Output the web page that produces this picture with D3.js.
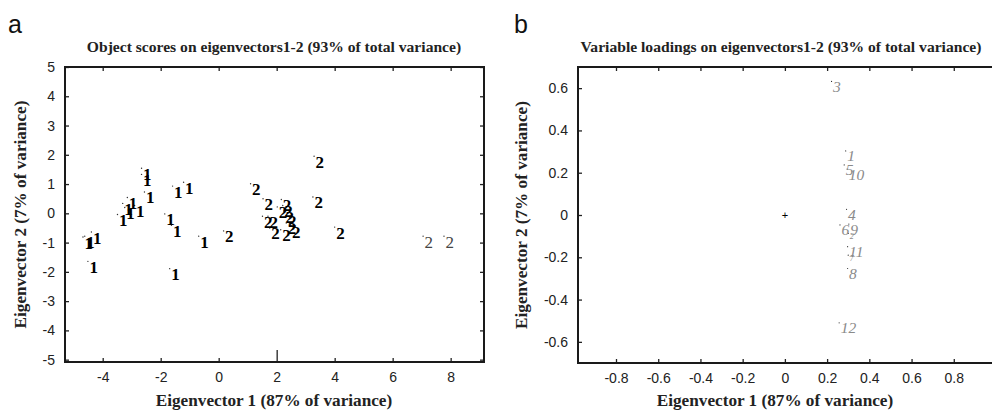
<!DOCTYPE html>
<html>
<head>
<meta charset="utf-8">
<script src="https://cdn.jsdelivr.net/npm/d3@7"></script>
<style>
  body { margin: 0; background: #fff; }
  svg { display: block; }
</style>
</head>
<body>
<div id="chart"></div>
<script>
// ---- data ----
// panel a: object scores, group label "1" or "2"
var scoreX = [-2.66, -2.66, -2.56, -1.59, -1.21, -3.15, -3.31, -3.24, -2.90, -3.49, -1.86, -1.63, -0.69,
  -4.68, -4.62, -4.39, -4.51, -1.69,
  3.29, 1.10, 1.53, 2.16, 3.25, 2.02, 2.21, 2.25, 1.51, 1.70, 2.34, 2.33, 2.48, 1.76, 2.14, 4.00, 0.17, 7.05, 7.77];
var scoreY = [1.54, 1.33, 0.73, 0.93, 1.06, 0.54, 0.34, 0.20, 0.27, -0.04, -0.02, -0.41, -0.78,
  -0.81, -0.78, -0.64, -1.64, -1.89,
  1.95, 1.01, 0.50, 0.47, 0.56, 0.22, 0.27, 0.07, -0.10, -0.10, -0.07, -0.33, -0.44, -0.50, -0.56, -0.47, -0.60, -0.78, -0.78];
var scoreGroup = ["1", "1", "1", "1", "1", "1", "1", "1", "1", "1", "1", "1", "1",
  "1", "1", "1", "1", "1",
  "2", "2", "2", "2", "2", "2", "2", "2", "2", "2", "2", "2", "2", "2", "2", "2", "2", "2", "2"];

// panel b: variable loadings
var loadName = ["3", "1", "5", "10", "4", "6", "9", "2", "11", "7", "8", "12"];
var loadX = [0.221, 0.288, 0.281, 0.295, 0.292, 0.261, 0.303, 0.300, 0.297, 0.300, 0.297, 0.257];
var loadY = [0.632, 0.303, 0.237, 0.217, 0.027, -0.047, -0.043, -0.087, -0.150, -0.190, -0.253, -0.510];
var loadSmall = [false, false, false, false, false, false, false, true, false, true, false, false];

// ticks
var ticksAX = [-4, -2, 0, 2, 4, 6, 8];
var ticksAY = [-5, -4, -3, -2, -1, 0, 1, 2, 3, 4, 5];
var ticksBX = [-0.8, -0.6, -0.4, -0.2, 0, 0.2, 0.4, 0.6, 0.8];
var ticksBY = [-0.6, -0.4, -0.2, 0, 0.2, 0.4, 0.6];

var W = 992, H = 414;
var serif = "'Liberation Serif', 'Times New Roman', serif";
var sans = "'Liberation Sans', Arial, sans-serif";

var svg = d3.select("#chart").append("svg")
  .attr("width", W)
  .attr("height", H);

function fmt(d) {
  if (d === 0) return "0";
  return Number.isInteger(d) ? String(d) : d.toFixed(1);
}

// draws frame, ticks on all four sides, titles
function drawFrame(p) {
  var x = p.x, y = p.y;
  var g = svg.append("g");

  var bottom = g.append("g")
    .attr("transform", "translate(0," + y.range()[0] + ")")
    .call(d3.axisBottom(x).tickValues(p.tx).tickFormat(fmt)
      .tickSizeInner(-4).tickSizeOuter(0).tickPadding(10));
  g.append("g")
    .attr("transform", "translate(0," + y.range()[1] + ")")
    .call(d3.axisTop(x).tickValues(p.tx).tickFormat("")
      .tickSizeInner(-4).tickSizeOuter(0));
  g.append("g")
    .attr("transform", "translate(" + x.range()[0] + ",0)")
    .call(d3.axisLeft(y).tickValues(p.ty).tickFormat(fmt)
      .tickSizeInner(-4).tickSizeOuter(0).tickPadding(10));
  g.append("g")
    .attr("transform", "translate(" + x.range()[1] + ",0)")
    .call(d3.axisRight(y).tickValues(p.ty).tickFormat("")
      .tickSizeInner(-4).tickSizeOuter(0));

  g.selectAll(".domain").remove();
  g.selectAll(".tick line").attr("stroke", "#222").attr("stroke-width", 1.3);
  g.selectAll(".tick text")
    .attr("fill", "#222")
    .style("font-family", sans)
    .style("font-size", "14px");

  if (p.longTick !== undefined) {
    bottom.selectAll(".tick").filter(function (d) { return d === p.longTick; })
      .select("line").attr("y2", -12);
  }

  // frame
  g.append("rect")
    .attr("x", x.range()[0])
    .attr("y", y.range()[1])
    .attr("width", x.range()[1] - x.range()[0])
    .attr("height", y.range()[0] - y.range()[1])
    .attr("fill", "none")
    .attr("stroke", "#1a1a1a")
    .attr("stroke-width", 2);

  var cy = (y.range()[0] + y.range()[1]) / 2;

  // title
  svg.append("text")
    .attr("x", p.titleX).attr("y", 52)
    .attr("text-anchor", "middle")
    .style("font-family", serif).style("font-weight", "bold").style("font-size", "15.6px")
    .attr("fill", "#222")
    .text(p.title);

  // x label
  svg.append("text")
    .attr("x", p.xlabX).attr("y", 406)
    .attr("text-anchor", "middle")
    .style("font-family", serif).style("font-weight", "bold").style("font-size", "17.2px")
    .attr("fill", "#222")
    .text("Eigenvector 1 (87% of variance)");

  // y label
  svg.append("text")
    .attr("transform", "translate(" + p.ylabX + "," + cy + ") rotate(-90)")
    .attr("text-anchor", "middle")
    .style("font-family", serif).style("font-weight", "bold").style("font-size", "17.2px")
    .attr("fill", "#222")
    .text("Eigenvector 2 (7% of variance)");

  // panel letter
  svg.append("text")
    .attr("x", p.letterX).attr("y", 33)
    .style("font-family", sans).style("font-size", "25px")
    .attr("fill", "#111")
    .text(p.letter);
}

// ---- panel a ----
var xA = d3.scaleLinear().domain([-5.3, 9.15]).range([65, 484]);
var yA = d3.scaleLinear().domain([-5.08, 5]).range([362, 67]);

drawFrame({
  x: xA, y: yA, tx: ticksAX, ty: ticksAY, longTick: 2,
  title: "Object scores on eigenvectors1-2 (93% of total variance)",
  titleX: 274, xlabX: 274, ylabX: 26, letter: "a", letterX: 8
});

var scores = scoreX.map(function (d, i) {
  return { x: d, y: scoreY[i], g: scoreGroup[i] };
});

svg.append("g").selectAll("circle")
  .data(scores)
  .enter()
  .append("circle")
  .attr("cx", function (d) { return xA(d.x); })
  .attr("cy", function (d) { return yA(d.y); })
  .attr("r", 0.7)
  .attr("fill", "#333");

svg.append("g").selectAll("text")
  .data(scores)
  .enter()
  .append("text")
  .attr("x", function (d) { return xA(d.x) + 1.5; })
  .attr("y", function (d) { return yA(d.y) + 11.5; })
  .style("font-family", serif)
  .style("font-size", "17px")
  .attr("fill", function (d) { return d.x > 6 ? "#444" : "#000"; })
  .style("font-weight", function (d) { return d.x > 6 ? "normal" : "bold"; })
  .text(function (d) { return d.g; });

// ---- panel b ----
var xB = d3.scaleLinear().domain([-0.98, 1.0]).range([578, 996]);
var yB = d3.scaleLinear().domain([-0.7, 0.7]).range([363, 67]);

drawFrame({
  x: xB, y: yB, tx: ticksBX, ty: ticksBY,
  title: "Variable loadings on eigenvectors1-2 (93% of total variance)",
  titleX: 781, xlabX: 775, ylabX: 527, letter: "b", letterX: 514
});

var loads = loadX.map(function (d, i) {
  return { x: d, y: loadY[i], name: loadName[i], small: loadSmall[i] };
});

// origin marker
svg.append("text")
  .attr("x", xB(0)).attr("y", yB(0))
  .attr("text-anchor", "middle")
  .attr("dy", "0.35em")
  .style("font-family", sans).style("font-size", "11px")
  .attr("fill", "#000")
  .text("+");

svg.append("g").selectAll("circle")
  .data(loads)
  .enter()
  .append("circle")
  .attr("cx", function (d) { return xB(d.x); })
  .attr("cy", function (d) { return yB(d.y); })
  .attr("r", 0.6)
  .attr("fill", "#333");

svg.append("g").selectAll("text")
  .data(loads)
  .enter()
  .append("text")
  .attr("x", function (d) { return xB(d.x) + 1.5; })
  .attr("y", function (d) { return yB(d.y) + (d.small ? 6 : 10.5); })
  .style("font-family", serif)
  .style("font-style", "italic")
  .style("font-size", function (d) { return d.small ? "8px" : "15.5px"; })
  .attr("fill", "#8a8a8a")
  .text(function (d) { return d.name; });
</script>
</body>
</html>
